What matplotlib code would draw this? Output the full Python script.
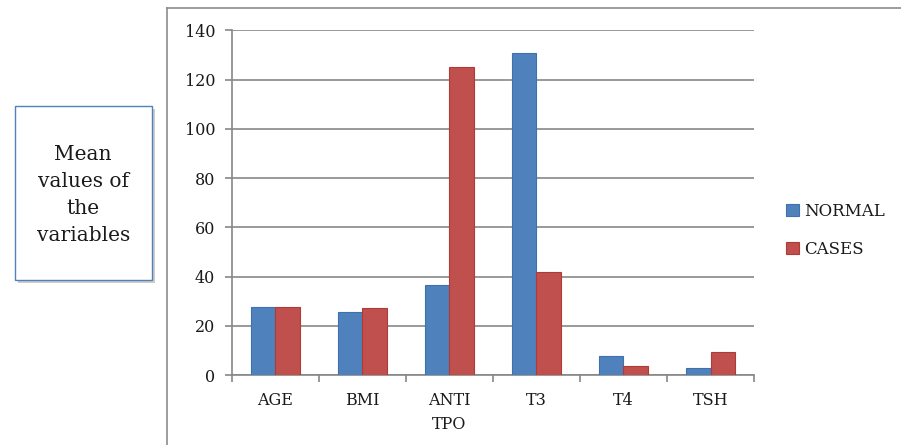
import matplotlib
matplotlib.use("Agg")
import matplotlib.pyplot as plt
import numpy as np
from matplotlib.patches import Rectangle
from matplotlib.lines import Line2D

categories = ["AGE", "BMI", "ANTI\nTPO", "T3", "T4", "TSH"]
normal = [27.7, 25.7, 36.6, 130.6, 7.7, 2.7]
cases = [27.7, 27.1, 125.2, 42.0, 3.8, 9.3]
series_names = ["NORMAL", "CASES"]
yticks = [0, 20, 40, 60, 80, 100, 120, 140]

plt.rcParams['font.family'] = ['DejaVu Serif']
TXT = "#1a1a1a"
GRID = "#878787"

fig = plt.figure(figsize=(9.01, 4.45), dpi=100)
ax = fig.add_axes([0.2572, 0.1573, 0.5797, 0.7746])

x = np.arange(len(categories))
w = 0.28
ax.bar(x - w/2, normal, w, color="#4F81BD", edgecolor="#3F70B0", linewidth=0.8, label=series_names[0], zorder=3)
ax.bar(x + w/2, cases, w, color="#C0504D", edgecolor="#B03A37", linewidth=0.8, label=series_names[1], zorder=3)

ax.set_xlim(-0.5, len(categories) - 0.5)
ax.set_ylim(0, 140)
ax.set_yticks(yticks)
ax.set_yticklabels([str(v) for v in yticks], fontsize=11.5, color=TXT)
ax.yaxis.grid(True, color=GRID, linewidth=1.2, zorder=0)
ax.set_xticks(x)
ax.set_xticklabels(categories, fontsize=11.5, color=TXT, linespacing=1.55)
ax.tick_params(axis='x', length=0, pad=12)
ax.tick_params(axis='y', length=5, color=GRID, width=1.2, pad=7)
# category boundary ticks
ax.set_xticks(np.arange(-0.5, len(categories), 1.0), minor=True)
ax.tick_params(axis='x', which='minor', length=5, color=GRID, width=1.2)

for s in ["top", "right"]:
    ax.spines[s].set_visible(False)
for s in ["left", "bottom"]:
    ax.spines[s].set_color(GRID)
    ax.spines[s].set_linewidth(1.2)

leg = ax.legend(loc="center left", bbox_to_anchor=(1.033, 0.42), frameon=False,
                fontsize=12, handlelength=0.75, handleheight=0.75, handletextpad=0.35,
                labelspacing=1.25)
for t in leg.get_texts():
    t.set_color(TXT)

# outer chart frame
W, H = 901, 445
fig.add_artist(Line2D([166.5 / W, 166.5 / W], [0, 1 - 7.5 / H], transform=fig.transFigure, color="#8C8C8C", linewidth=1.2))
fig.add_artist(Line2D([166.5 / W, 1], [1 - 7.5 / H, 1 - 7.5 / H], transform=fig.transFigure, color="#8C8C8C", linewidth=1.2))

# text box with shadow
bx0, bx1, by0, by1 = 14.7, 151.7, 105.7, 280
fig.add_artist(Rectangle(((bx0 + 3) / W, 1 - (by1 + 3) / H), (bx1 - bx0) / W, (by1 - by0) / H,
                         transform=fig.transFigure, facecolor="#D0CCC8", edgecolor="none", zorder=1))
fig.add_artist(Rectangle((bx0 / W, 1 - by1 / H), (bx1 - bx0) / W, (by1 - by0) / H,
                         transform=fig.transFigure, facecolor="white", edgecolor="#4F81BD", linewidth=1.0, zorder=2))
fig.text((bx0 + bx1) / 2 / W, 1 - 195 / H, "Mean\nvalues of\nthe\nvariables", ha="center", va="center",
         fontsize=14.5, linespacing=1.55, color=TXT, zorder=3)

fig.savefig("out.png", dpi=100)
